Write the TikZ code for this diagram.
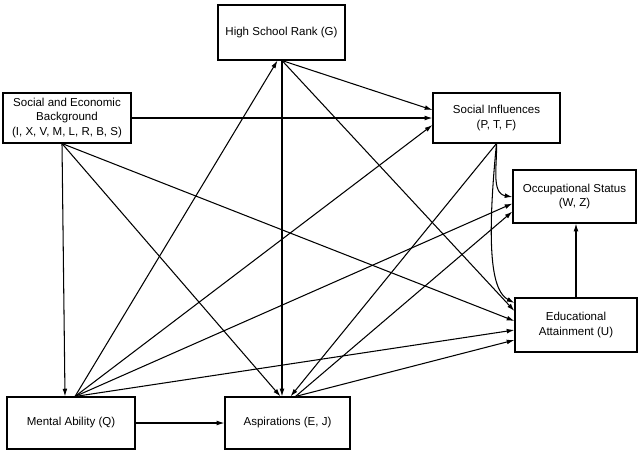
\documentclass[tikz,border=0pt]{standalone}
\usepackage{fontspec}
\setmainfont{Liberation Sans}
\usetikzlibrary{arrows.meta, calc}

\begin{document}
\begin{tikzpicture}[
        x=0.025cm, y=-0.025cm,
        every node/.style={font=\fontsize{8.2}{10.6}\selectfont},
        box/.style={draw, line width=0.75pt, inner sep=0pt, align=center},
        arr/.style={draw, line width=0.75pt, -{Latex[length=5.5pt, width=3.4pt]}}
    ]
    \useasboundingbox (0,0) rectangle (640,456);
    % boxes
    \node[box, minimum width=3.2cm, minimum height=1.25cm] (seb) at (67,118)
        {Social and Economic\\Background\\(I, X, V, M, L, R, B, S)};
    \node[box, minimum width=3.175cm, minimum height=1.375cm] (hsr) at (281.5,32.5)
        {High School Rank (G)};
    \node[box, minimum width=3.175cm, minimum height=1.25cm] (si) at (496.5,118)
        {Social Influences\\(P, T, F)};
    \node[box, minimum width=3.075cm, minimum height=1.325cm] (os) at (574.5,196.5)
        {Occupational Status\\(W, Z)};
    \node[box, minimum width=3.05cm, minimum height=1.35cm] (ea) at (576,325)
        {Educational\\Attainment (U)};
    \node[box, minimum width=3.2cm, minimum height=1.3cm] (ma) at (71,423)
        {Mental Ability (Q)};
    \node[box, minimum width=3.125cm, minimum height=1.3cm] (asp) at (287.5,423)
        {Aspirations (E, J)};

    % ends of the connectors on the box borders
    \coordinate (seb-s) at ($(seb.south)+(-5,0)$);
    \coordinate (hsr-s) at ($(hsr.south)+(0.5,0)$);
    \coordinate (hsr-in) at ($(hsr.south)+(-4,0)$);
    \coordinate (ma-n) at ($(ma.north)+(4,0)$);
    \coordinate (ma-in) at ($(ma.north)+(-6,0)$);
    \coordinate (asp-n) at ($(asp.north)+(8,0)$);
    \coordinate (asp-in1) at ($(asp.north)+(-7,0)$);
    \coordinate (asp-in3) at ($(asp.north)+(3,0)$);
    \coordinate (si-w1) at ($(si.west)+(0,-8)$);
    \coordinate (si-w3) at ($(si.west)+(0,7)$);
    \coordinate (os-w1) at ($(os.west)+(0,0.5)$);
    \coordinate (os-w2) at ($(os.west)+(0,7)$);
    \coordinate (os-w3) at ($(os.west)+(0,15)$);
    \coordinate (ea-w1) at ($(ea.west)+(0,-22)$);
    \coordinate (ea-w2) at ($(ea.west)+(0,-14)$);
    \coordinate (ea-w3) at ($(ea.west)+(0,-4)$);
    \coordinate (ea-w4) at ($(ea.west)+(0,5)$);
    \coordinate (ea-w5) at ($(ea.west)+(0,15)$);

    % background
    \draw[arr] (seb.east) -- (si.west);
    \draw[arr] (seb-s) -- (ma-in);
    \draw[arr] (seb-s) -- (asp-in1);
    \draw[arr] (seb-s) -- (ea-w3);
    % high school rank
    \draw[arr] (hsr-s) -- (si-w1);
    \draw[arr] (hsr-s) -- (hsr-s |- asp.north);
    \draw[arr] (hsr-s) -- (ea-w2);
    % mental ability
    \draw[arr] (ma-n) -- (hsr-in);
    \draw[arr] (ma-n) -- (si-w3);
    \draw[arr] (ma-n) -- (os-w2);
    \draw[arr] (ma-n) -- (ea-w4);
    \draw[arr] (ma.east) -- (asp.west);
    % social influences
    \draw[arr] (si.south) -- (asp-in3);
    \draw[arr] (si.south) to[out=-88, in=170] (os-w1);
    \draw[arr] (si.south) .. controls (485,260) and (494,292) .. (ea-w1);
    % aspirations
    \draw[arr] (asp-n) -- (os-w3);
    \draw[arr] (asp-n) -- (ea-w5);
    % attainment
    \draw[arr] (ea.north) -- (ea.north |- os.south);
\end{tikzpicture}
\end{document}
